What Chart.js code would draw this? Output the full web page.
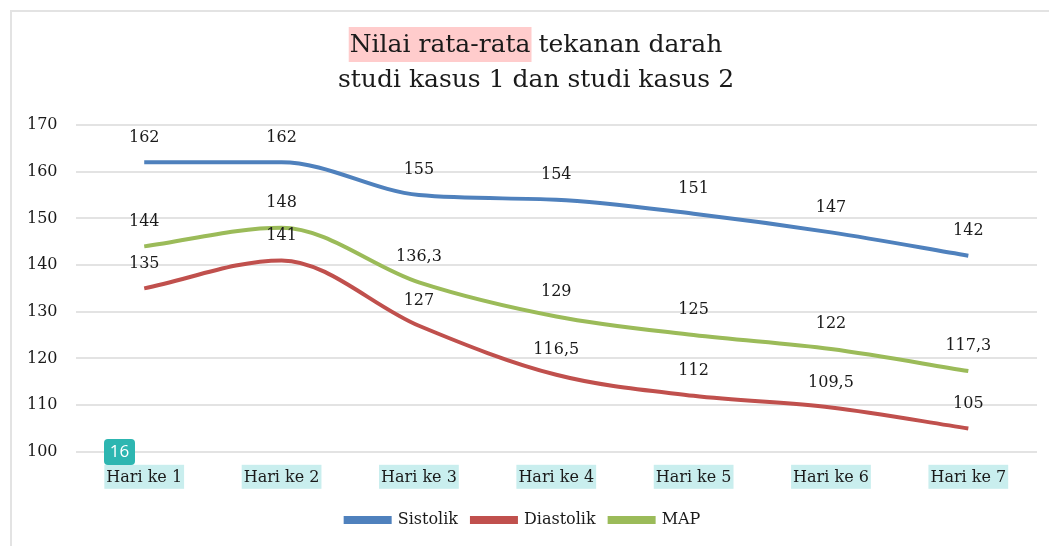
<!DOCTYPE html>
<html>
<head>
<meta charset="utf-8">
<script src="https://cdn.jsdelivr.net/npm/chart.js@4.4.1/dist/chart.umd.min.js"></script>
<style>
  html, body { margin: 0; padding: 0; background: #fff; }
  #wrap { width: 1049px; height: 546px; position: relative; }
</style>
</head>
<body>
<div id="wrap"><canvas id="bpChart"></canvas></div>
<script>
var days = ['Hari ke 1', 'Hari ke 2', 'Hari ke 3', 'Hari ke 4', 'Hari ke 5', 'Hari ke 6', 'Hari ke 7'];
var sistolik = [162, 162, 155, 154, 151, 147, 142];
var diastolik = [135, 141, 127, 116.5, 112, 109.5, 105];
var map = [144, 148, 136.3, 129, 125, 122, 117.3];
var titleLines = ['Nilai rata-rata tekanan darah', 'studi kasus 1 dan studi kasus 2'];
var titleMark = 'Nilai rata-rata';

var serif = '"DejaVu Serif", serif';

// frame lines, title with highlight, label highlights
var decor = {
    id: 'decor',
    beforeDraw: function(chart) {
        var ctx = chart.ctx;
        ctx.save();
        ctx.fillStyle = '#fff';
        ctx.fillRect(0, 0, chart.width, chart.height);
        ctx.strokeStyle = '#e3e3e3';
        ctx.lineWidth = 2;
        ctx.beginPath();
        ctx.moveTo(11, chart.height);
        ctx.lineTo(11, 11);
        ctx.lineTo(chart.width, 11);
        ctx.stroke();

        // title
        ctx.font = '25px ' + serif;
        ctx.textBaseline = 'middle';
        var cx = 536;
        var w1 = ctx.measureText(titleLines[0]).width;
        var wm = ctx.measureText(titleMark).width;
        var x1 = cx - w1 / 2;
        ctx.fillStyle = '#ffcccc';
        ctx.fillRect(x1 - 1, 27, wm + 2, 35);
        ctx.fillStyle = '#1a1a1a';
        ctx.textAlign = 'left';
        ctx.fillText(titleLines[0], x1, 45);
        ctx.textAlign = 'center';
        ctx.fillText(titleLines[1], cx, 80);

        // x label highlight
        var xs = chart.scales.x;
        ctx.font = '16px ' + serif;
        ctx.fillStyle = '#c9eeee';
        days.forEach(function(d, i) {
            var px = xs.getPixelForTick(i);
            var w = ctx.measureText(d).width;
            ctx.fillRect(px - w / 2 - 2, xs.top + 13, w + 4, 24);
        });
        ctx.restore();
    },
    afterDatasetsDraw: function(chart) {
        var ctx = chart.ctx;
        ctx.save();
        ctx.font = '16px ' + serif;
        ctx.fillStyle = '#1a1a1a';
        ctx.textAlign = 'center';
        ctx.textBaseline = 'middle';
        chart.data.datasets.forEach(function(ds, di) {
            chart.getDatasetMeta(di).data.forEach(function(pt, i) {
                ctx.fillText(String(ds.data[i]).replace('.', ','), pt.x, pt.y - 25);
            });
        });
        // page badge
        ctx.fillStyle = '#2db6b1';
        ctx.beginPath();
        ctx.roundRect(104, 439, 31, 26, 4);
        ctx.fill();
        ctx.fillStyle = '#fff';
        ctx.font = '17px "Open Sans", sans-serif';
        ctx.fillText('16', 119.5, 452.5);
        ctx.restore();
    }
};

function line(label, data, color) {
    return {
        label: label,
        data: data,
        borderColor: color,
        backgroundColor: color,
        borderWidth: 4,
        pointRadius: 0,
        cubicInterpolationMode: 'monotone',
        fill: false
    };
}

new Chart(document.getElementById('bpChart'), {
    type: 'line',
    data: {
        labels: days,
        datasets: [
            line('Sistolik', sistolik, '#4f81bd'),
            line('Diastolik', diastolik, '#c0504d'),
            line('MAP', map, '#9bbb59')
        ]
    },
    options: {
        responsive: true,
        maintainAspectRatio: false,
        animation: false,
        layout: { padding: { top: 125, left: 9, right: 12, bottom: 8 } },
        plugins: {
            title: { display: false },
            tooltip: { enabled: false },
            legend: {
                position: 'bottom',
                labels: {
                    color: '#1a1a1a',
                    font: { family: serif, size: 16 },
                    boxWidth: 44,
                    boxHeight: 4,
                    padding: 14
                }
            }
        },
        scales: {
            x: {
                offset: true,
                grid: { display: false },
                border: { display: false },
                ticks: { color: '#1a1a1a', font: { family: serif, size: 16 }, padding: 8, maxRotation: 0 },
                afterFit: function(s) { s.height += 3; }
            },
            y: {
                min: 100,
                max: 170,
                ticks: { stepSize: 10, color: '#1a1a1a', font: { family: serif, size: 16 }, padding: 18 },
                grid: { color: '#e3e3e3', lineWidth: 2, drawTicks: false },
                border: { display: false }
            }
        }
    },
    plugins: [decor]
});
</script>
</body>
</html>
